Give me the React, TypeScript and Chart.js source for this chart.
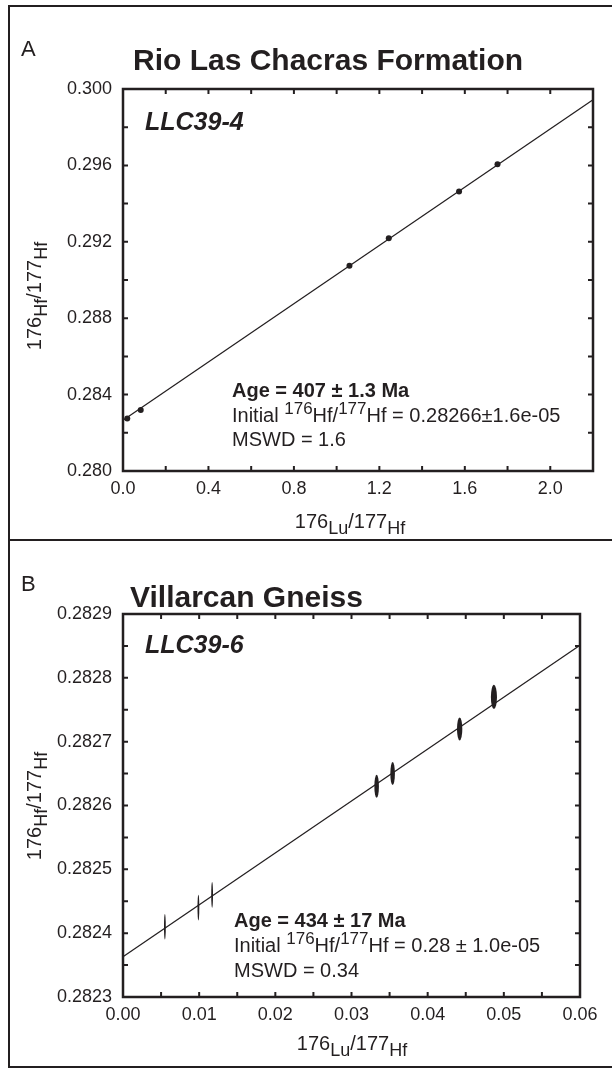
import { useEffect, useRef } from "react";
import { Chart, registerables } from "chart.js";

Chart.register(...registerables);

const INK = "#231f20";
const FONT = '"Liberation Sans", Arial, Helvetica, sans-serif';
const W = 612;

// ---------- Panel A : Rio Las Chacras Formation (LLC39-4) ----------
const aLu = [0.02, 0.083, 1.06, 1.244, 1.573, 1.753];
const aHf = [0.28275, 0.2832, 0.29075, 0.29218, 0.29463, 0.29606];
const aIsoLu = [0, 2.2];
const aIsoHf = [0.28266, 0.29944];
const aXRange = [0, 2.2];
const aYRange = [0.28, 0.3];
const aXSteps = [0.4, 0.2]; // labelled, minor
const aYSteps = [0.004, 0.002];
const aNotes = ["Age = 407 ± 1.3 Ma", "Hf = 0.28266±1.6e-05", "MSWD = 1.6"];

// ---------- Panel B : Villarcan Gneiss (LLC39-6) ----------
const bLu = [0.0055, 0.0099, 0.0117, 0.0333, 0.0354, 0.0442, 0.0487];
const bHf = [0.28241, 0.28244, 0.28246, 0.28263, 0.28265, 0.28272, 0.28277];
const bLuErr = [0.00012, 0.00012, 0.00012, 0.0003, 0.0003, 0.00035, 0.0004];
const bHfErr = [0.00002, 0.00002, 0.00002, 0.000018, 0.000018, 0.000018, 0.000019];
const bIsoLu = [0, 0.06];
const bIsoHf = [0.282363, 0.282851];
const bXRange = [0, 0.06];
const bYRange = [0.2823, 0.2829];
const bXSteps = [0.01, 0.005];
const bYSteps = [0.0001, 0.00005];
const bNotes = ["Age = 434 ± 17 Ma", "Hf = 0.28 ± 1.0e-05", "MSWD = 0.34"];

type Seg = { t: string; s: number; dy?: number; b?: boolean; i?: boolean };

const fontOf = (g: Seg) => `${g.i ? "italic " : ""}${g.b ? "bold " : ""}${g.s}px ${FONT}`;

function rich(ctx: CanvasRenderingContext2D, segs: Seg[], x: number, y: number, align: "left" | "center") {
  let w = 0;
  for (const g of segs) {
    ctx.font = fontOf(g);
    w += ctx.measureText(g.t).width;
  }
  let cx = align === "center" ? x - w / 2 : x;
  ctx.textAlign = "left";
  ctx.textBaseline = "alphabetic";
  ctx.fillStyle = INK;
  for (const g of segs) {
    ctx.font = fontOf(g);
    ctx.fillText(g.t, cx, y + (g.dy || 0));
    cx += ctx.measureText(g.t).width;
  }
}

const ratio = (a: string, b: string): Seg[] => [
  { t: "176", s: 20 },
  { t: a, s: 18, dy: 6 },
  { t: "/177", s: 20 },
  { t: b, s: 18, dy: 6 },
];

interface Panel {
  letter: string;
  title: string;
  sample: string;
  xs: number[];
  ys: number[];
  xErr?: number[];
  yErr?: number[];
  lineX: number[];
  lineY: number[];
  xRange: number[];
  yRange: number[];
  xSteps: number[];
  ySteps: number[];
  xDec: number;
  yDec: number;
  notes: string[];
  height: number;
  area: { left: number; right: number; top: number; bottom: number };
  pos: {
    letter: [number, number];
    title: [number, number];
    sample: [number, number];
    notes: [number, number];
    noteGap: number;
    xTitle: [number, number];
    yTitle: [number, number];
  };
}

const isMajor = (v: number, step: number) => Math.abs(v / step - Math.round(v / step)) < 1e-6;

function decoPlugin(p: Panel) {
  return {
    id: "deco" + p.letter,
    afterDraw(chart: any) {
      const ctx: CanvasRenderingContext2D = chart.ctx;
      const a = chart.chartArea;
      const xs = chart.scales.x;
      const ys = chart.scales.y;
      ctx.save();

      // error ellipses
      if (p.xErr && p.yErr) {
        ctx.fillStyle = INK;
        p.xs.forEach((xv, i) => {
          const cx = xs.getPixelForValue(xv);
          const cy = ys.getPixelForValue(p.ys[i]);
          const rx = Math.abs(xs.getPixelForValue(xv + p.xErr![i]) - cx);
          const ry = Math.abs(ys.getPixelForValue(p.ys[i] + p.yErr![i]) - cy);
          ctx.beginPath();
          ctx.ellipse(cx, cy, Math.max(rx, 0.9), ry, 0, 0, Math.PI * 2);
          ctx.fill();
        });
      }

      // frame
      ctx.strokeStyle = INK;
      ctx.lineWidth = 2.5;
      ctx.strokeRect(a.left, a.top, a.right - a.left, a.bottom - a.top);

      // inward ticks on all four sides
      ctx.lineWidth = 2;
      const tl = 5;
      ctx.beginPath();
      for (const t of xs.ticks) {
        const px = xs.getPixelForValue(t.value);
        ctx.moveTo(px, a.bottom);
        ctx.lineTo(px, a.bottom - tl);
        ctx.moveTo(px, a.top);
        ctx.lineTo(px, a.top + tl);
      }
      for (const t of ys.ticks) {
        const py = ys.getPixelForValue(t.value);
        ctx.moveTo(a.left, py);
        ctx.lineTo(a.left + tl, py);
        ctx.moveTo(a.right, py);
        ctx.lineTo(a.right - tl, py);
      }
      ctx.stroke();

      // headings
      rich(ctx, [{ t: p.letter, s: 22 }], p.pos.letter[0], p.pos.letter[1], "left");
      rich(ctx, [{ t: p.title, s: 30, b: true }], p.pos.title[0], p.pos.title[1], "left");
      rich(ctx, [{ t: p.sample, s: 25, b: true, i: true }], p.pos.sample[0], p.pos.sample[1], "left");

      // notes
      const [nx, ny] = p.pos.notes;
      const g = p.pos.noteGap;
      rich(ctx, [{ t: p.notes[0], s: 20, b: true }], nx, ny, "left");
      rich(
        ctx,
        [
          { t: "Initial ", s: 20 },
          { t: "176", s: 17, dy: -8 },
          { t: "Hf/", s: 20 },
          { t: "177", s: 17, dy: -8 },
          { t: p.notes[1], s: 20 },
        ],
        nx,
        ny + g,
        "left"
      );
      rich(ctx, [{ t: p.notes[2], s: 20 }], nx, ny + 2 * g, "left");

      // axis titles
      rich(ctx, ratio("Lu", "Hf"), p.pos.xTitle[0], p.pos.xTitle[1], "center");
      ctx.save();
      ctx.translate(p.pos.yTitle[0], p.pos.yTitle[1]);
      ctx.rotate(-Math.PI / 2);
      rich(ctx, ratio("Hf", "Hf"), 0, 0, "center");
      ctx.restore();

      ctx.restore();
    },
  };
}

function makeConfig(p: Panel): any {
  const a = p.area;
  const tickFont = { family: FONT, size: 18 };
  return {
    type: "scatter",
    data: {
      datasets: [
        {
          type: "line",
          data: p.lineX.map((x, i) => ({ x, y: p.lineY[i] })),
          borderColor: INK,
          borderWidth: 1.2,
          pointRadius: 0,
          fill: false,
          tension: 0,
        },
        {
          type: "scatter",
          data: p.xs.map((x, i) => ({ x, y: p.ys[i] })),
          pointRadius: p.xErr ? 0 : 3,
          backgroundColor: INK,
          borderColor: INK,
          borderWidth: 0,
        },
      ],
    },
    options: {
      animation: false,
      responsive: false,
      events: [],
      layout: { padding: { top: a.top, right: W - a.right, left: 0, bottom: 0 } },
      plugins: { legend: { display: false }, tooltip: { enabled: false } },
      scales: {
        x: {
          type: "linear",
          position: "bottom",
          min: p.xRange[0],
          max: p.xRange[1],
          afterFit: (s: any) => {
            s.height = p.height - a.bottom;
          },
          grid: { display: false, drawTicks: false },
          border: { display: false },
          ticks: {
            stepSize: p.xSteps[1],
            maxTicksLimit: 1000,
            autoSkip: false,
            maxRotation: 0,
            padding: 7,
            color: INK,
            font: tickFont,
            callback: (v: any) => (isMajor(Number(v), p.xSteps[0]) ? Number(v).toFixed(p.xDec) : ""),
          },
        },
        y: {
          type: "linear",
          position: "left",
          min: p.yRange[0],
          max: p.yRange[1],
          afterFit: (s: any) => {
            s.width = a.left;
          },
          grid: { display: false, drawTicks: false },
          border: { display: false },
          ticks: {
            stepSize: p.ySteps[1],
            maxTicksLimit: 1000,
            autoSkip: false,
            padding: 11,
            color: INK,
            font: tickFont,
            callback: (v: any) => (isMajor(Number(v), p.ySteps[0]) ? Number(v).toFixed(p.yDec) : ""),
          },
        },
      },
    },
    plugins: [decoPlugin(p)],
  };
}

const panelA: Panel = {
  letter: "A",
  title: "Rio Las Chacras Formation",
  sample: "LLC39-4",
  xs: aLu,
  ys: aHf,
  lineX: aIsoLu,
  lineY: aIsoHf,
  xRange: aXRange,
  yRange: aYRange,
  xSteps: aXSteps,
  ySteps: aYSteps,
  xDec: 1,
  yDec: 3,
  notes: aNotes,
  height: 540,
  area: { left: 123, right: 593, top: 89, bottom: 471 },
  pos: {
    letter: [21, 56],
    title: [133, 70],
    sample: [145, 130],
    notes: [232, 397],
    noteGap: 24.5,
    xTitle: [350, 528],
    yTitle: [41, 296],
  },
};

const panelB: Panel = {
  letter: "B",
  title: "Villarcan Gneiss",
  sample: "LLC39-6",
  xs: bLu,
  ys: bHf,
  xErr: bLuErr,
  yErr: bHfErr,
  lineX: bIsoLu,
  lineY: bIsoHf,
  xRange: bXRange,
  yRange: bYRange,
  xSteps: bXSteps,
  ySteps: bYSteps,
  xDec: 2,
  yDec: 4,
  notes: bNotes,
  height: 530,
  area: { left: 123, right: 580, top: 74, bottom: 457 },
  pos: {
    letter: [21, 51],
    title: [130, 67],
    sample: [145, 113],
    notes: [234, 387],
    noteGap: 25,
    xTitle: [352, 510],
    yTitle: [41, 266],
  },
};

function PanelChart({ p, top }: { p: Panel; top: number }) {
  const ref = useRef<HTMLCanvasElement | null>(null);
  useEffect(() => {
    if (!ref.current) return;
    const chart = new Chart(ref.current, makeConfig(p));
    return () => chart.destroy();
  }, [p]);
  return (
    <canvas
      ref={ref}
      width={W}
      height={p.height}
      style={{ position: "absolute", left: 0, top, width: W, height: p.height, display: "block" }}
    />
  );
}

export default function App() {
  return (
    <div style={{ position: "absolute", left: 0, top: 0, width: W, height: 1070, background: "#fff", overflow: "hidden" }}>
      <div
        style={{
          position: "absolute",
          left: 8,
          top: 5,
          width: 640,
          height: 1063,
          border: `2px solid ${INK}`,
          boxSizing: "border-box",
        }}
      />
      <div style={{ position: "absolute", left: 8, top: 539, width: 620, height: 2, background: INK }} />
      <PanelChart p={panelA} top={0} />
      <PanelChart p={panelB} top={540} />
    </div>
  );
}
